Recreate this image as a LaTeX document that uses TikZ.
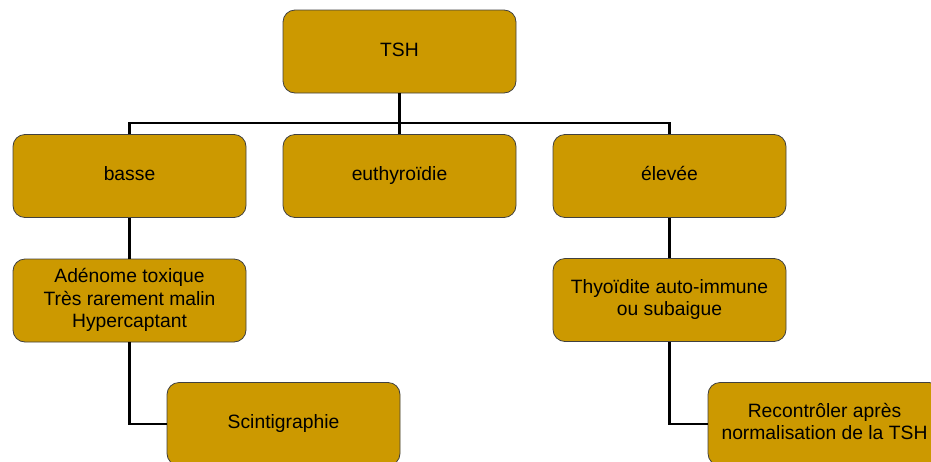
\documentclass[tikz,border=0pt]{standalone}
\usepackage{fontspec}
\setmainfont{Liberation Sans}
\newcommand{\stack}[1]{\begin{tabular}[b]{@{}c@{}}#1\end{tabular}}
\begin{document}
\begin{tikzpicture}[x=1pt,y=-1pt,
  box/.style={draw=black!75, line width=0.8pt, fill=gold, rounded corners=12pt,
    minimum width=233pt, minimum height=83pt, inner sep=0pt,
    font=\fontsize{19.3}{22.5}\selectfont, text depth=0pt},
  % baselines sit a little below the box centre
  lines/.style={box, text height=#1*22.5pt-22.5pt+0.9em},
  link/.style={line width=2.6pt, black}]
\definecolor{gold}{HTML}{CC9900}
\useasboundingbox (0,0) rectangle (931,461);
\clip (0,0) rectangle (931,461);
% top level
\node[lines=1] (tsh) at (399.5,51.5) {TSH};
% second level
\node[lines=1] (basse) at (129.5,176) {basse};
\node[lines=1] (euth) at (399.5,176) {euthyroïdie};
\node[lines=1] (elevee) at (669.5,176) {élevée};
% third level
\node[lines=3] (adenome) at (129.5,300.5) {\stack{Adénome toxique\\Très rarement malin\\Hypercaptant}};
\node[lines=2] (thyo) at (669.5,300) {\stack{Thyoïdite auto-immune\\ou subaigue}};
% fourth level
\node[lines=1] (scinti) at (283.5,424) {Scintigraphie};
\node[lines=2] (recon) at (824.5,424) {\stack{Recontrôler après\\normalisation de la TSH}};
% connectors
\coordinate (bus) at (399.5,123);
\begin{scope}[on background layer/.try]
\draw[link] (tsh.south) -- (euth.north);
\draw[link] (basse.north) |- (bus) -| (elevee.north);
\draw[link] (basse.south) -- (adenome.north);
\draw[link] (adenome.south) |- (scinti.west);
\draw[link] (elevee.south) -- (thyo.north);
\draw[link] (thyo.south) |- (recon.west);
\end{scope}
\end{tikzpicture}
\end{document}
